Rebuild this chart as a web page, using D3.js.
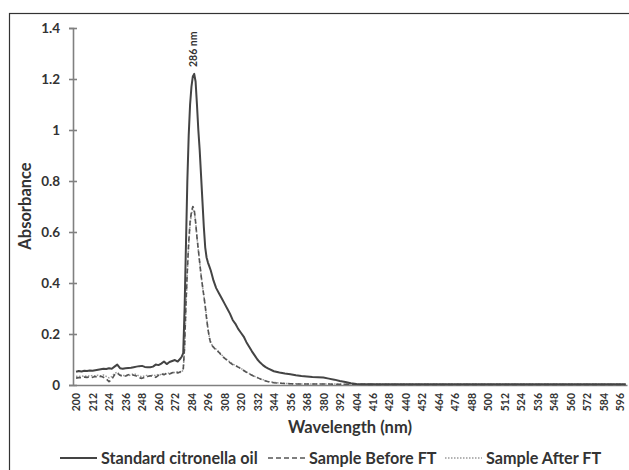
<!DOCTYPE html>
<html>
<head>
<meta charset="utf-8">
<script src="https://cdn.jsdelivr.net/npm/d3@7"></script>
<style>
    body { margin: 0; background: #fff; }
    svg text { font-family: Lato, "Open Sans", sans-serif; fill: #333; }
</style>
</head>
<body>
<div id="chart"></div>
<script>
// wavelength (nm) shared by the three series
const wavelengths = [
    200, 202, 204, 206, 208, 210, 212, 214, 216, 218, 220, 222, 224, 226, 228, 230, 232, 234, 236, 238,
    240, 242, 244, 246, 248, 250, 252, 254, 256, 258, 260, 262, 264, 266, 268, 270, 272, 274, 276,
    277, 278, 279, 280, 281, 282, 283, 284, 285, 286, 287, 288, 289, 290, 291, 292, 293, 294, 295, 296,
    297, 298, 299, 300, 302, 304, 306, 308, 310, 312, 314, 316, 318, 320, 322, 324, 326, 328, 330, 332,
    334, 336, 338, 340, 344, 348, 352, 356, 360, 364, 368, 372, 376, 380, 384, 388, 392, 396, 400, 404,
    408, 420, 440, 460, 480, 500, 520, 540, 560, 580, 600
];
const standardOil = [
    0.052, 0.055, 0.053, 0.056, 0.055, 0.057, 0.056, 0.058, 0.060, 0.062, 0.064, 0.063, 0.066, 0.064, 0.072, 0.080, 0.066, 0.064, 0.066, 0.067,
    0.068, 0.070, 0.072, 0.074, 0.075, 0.071, 0.070, 0.070, 0.072, 0.080, 0.078, 0.084, 0.092, 0.082, 0.090, 0.094, 0.098, 0.092, 0.104,
    0.112, 0.125, 0.30, 0.55, 0.80, 0.98, 1.10, 1.17, 1.21, 1.22, 1.19, 1.10, 1.00, 0.92, 0.82, 0.72, 0.62, 0.54, 0.50, 0.48,
    0.465, 0.45, 0.43, 0.41, 0.38, 0.36, 0.34, 0.32, 0.30, 0.28, 0.255, 0.24, 0.22, 0.205, 0.19, 0.168, 0.15, 0.132, 0.116, 0.10,
    0.088, 0.078, 0.07, 0.064, 0.054, 0.049, 0.045, 0.042, 0.038, 0.035, 0.033, 0.031, 0.030, 0.029, 0.025, 0.021, 0.016, 0.012, 0.007, 0.004,
    0.003, 0.003, 0.003, 0.003, 0.003, 0.003, 0.003, 0.003, 0.003, 0.003, 0.003
];
const sampleBefore = [
    0.027, 0.029, 0.028, 0.031, 0.030, 0.032, 0.030, 0.033, 0.031, 0.034, 0.030, 0.024, 0.013, 0.022, 0.040, 0.047, 0.038, 0.033, 0.035, 0.040,
    0.042, 0.038, 0.035, 0.028, 0.026, 0.030, 0.033, 0.036, 0.035, 0.030, 0.038, 0.044, 0.040, 0.046, 0.043, 0.048, 0.051, 0.047, 0.052,
    0.055, 0.060, 0.15, 0.32, 0.45, 0.56, 0.64, 0.68, 0.70, 0.69, 0.64, 0.58, 0.53, 0.48, 0.43, 0.39, 0.35, 0.31, 0.26, 0.22,
    0.185, 0.165, 0.155, 0.148, 0.137, 0.128, 0.115, 0.105, 0.097, 0.088, 0.080, 0.076, 0.070, 0.064, 0.057, 0.050, 0.044, 0.038, 0.033, 0.029,
    0.024, 0.020, 0.016, 0.013, 0.009, 0.007, 0.006, 0.005, 0.004, 0.004, 0.004, 0.004, 0.004, 0.004, 0.004, 0.003, 0.003, 0.003, 0.003, 0.003,
    0.003, 0.002, 0.002, 0.002, 0.002, 0.002, 0.002, 0.002, 0.002, 0.002, 0.002
];
const sampleAfter = [
    0.034, 0.033, 0.035, 0.034, 0.036, 0.035, 0.037, 0.036, 0.038, 0.036, 0.039, 0.034, 0.028, 0.033, 0.045, 0.050, 0.041, 0.037, 0.038, 0.036,
    0.040, 0.044, 0.041, 0.035, 0.032, 0.036, 0.038, 0.034, 0.040, 0.036, 0.042, 0.040, 0.046, 0.043, 0.048, 0.045, 0.050, 0.052, 0.049,
    0.053, 0.058, 0.14, 0.30, 0.44, 0.55, 0.63, 0.67, 0.69, 0.68, 0.64, 0.58, 0.53, 0.48, 0.43, 0.39, 0.35, 0.31, 0.27, 0.22,
    0.19, 0.168, 0.157, 0.15, 0.14, 0.13, 0.118, 0.107, 0.099, 0.09, 0.082, 0.077, 0.071, 0.065, 0.058, 0.051, 0.045, 0.039, 0.034, 0.029,
    0.025, 0.021, 0.017, 0.014, 0.010, 0.008, 0.006, 0.005, 0.005, 0.004, 0.004, 0.004, 0.004, 0.004, 0.004, 0.004, 0.003, 0.003, 0.003, 0.003,
    0.003, 0.003, 0.003, 0.003, 0.003, 0.003, 0.003, 0.003, 0.003, 0.003, 0.003
];
const xTickLabels = d3.range(200, 597, 12);
const yTickLabels = [0, 0.2, 0.4, 0.6, 0.8, 1, 1.2, 1.4];
const seriesNames = ['Standard citronella oil', 'Sample Before FT', 'Sample After FT'];
const peakLabel = '286 nm';

const width = 629, height = 470;
const svg = d3.select('#chart').append('svg')
    .attr('width', width)
    .attr('height', height);

// outer frame, cut by the picture edge like in the source
svg.append('rect')
    .attr('x', 9.5).attr('y', 13.5)
    .attr('width', 640).attr('height', 480)
    .attr('fill', 'none')
    .attr('stroke', '#333')
    .attr('stroke-width', 1.2);

const x = d3.scaleLinear().domain([198, 601]).range([73.3, 627]);
const y = d3.scaleLinear().domain([0, 1.4]).range([385, 28]);

// y axis
const yAxis = svg.append('g')
    .attr('transform', 'translate(73,0)')
    .call(d3.axisLeft(y).tickValues(yTickLabels).tickSize(4).tickPadding(9).tickFormat(d => d3.format('~g')(d)));
yAxis.select('.domain').attr('stroke', '#808080').attr('stroke-width', 1.6);
yAxis.selectAll('.tick line').attr('x1', 4).attr('stroke', '#808080').attr('stroke-width', 1.6);
yAxis.selectAll('.tick text')
    .style('font-size', '13.5px')
    .style('font-weight', 'bold');

// x axis
const xAxis = svg.append('g')
    .attr('transform', 'translate(0,385)')
    .call(d3.axisBottom(x).tickValues(xTickLabels).tickSize(0).tickSizeOuter(0));
xAxis.select('.domain').attr('stroke', '#808080').attr('stroke-width', 1.6);
xAxis.selectAll('.tick text')
    .attr('transform', 'rotate(-90)')
    .attr('text-anchor', 'end')
    .attr('x', -8)
    .attr('y', 0)
    .attr('dy', '0.35em')
    .style('font-size', '10.5px')
    .style('font-weight', 'bold');

// series
const line = values => d3.line()
    .x((d, i) => x(wavelengths[i]))
    .y(d => y(d))(values);

const seriesStyle = [
    {values: standardOil, color: '#444', width: 2, dash: null},
    {values: sampleBefore, color: '#555', width: 1.6, dash: '5,3'},
    {values: sampleAfter, color: '#9a9a9a', width: 1.5, dash: '1.5,1.5'}
];

seriesStyle.slice().reverse().forEach(s => {
    svg.append('path')
        .attr('d', line(s.values))
        .attr('fill', 'none')
        .attr('stroke', s.color)
        .attr('stroke-width', s.width)
        .attr('stroke-dasharray', s.dash)
        .attr('stroke-linejoin', 'round');
});

// peak annotation
svg.append('text')
    .attr('transform', `translate(${x(286) + 3},67) rotate(-90)`)
    .attr('text-anchor', 'start')
    .style('font-size', '10.5px')
    .style('font-weight', 'bold')
    .text(peakLabel);

// axis titles
svg.append('text')
    .attr('transform', 'translate(31,206) rotate(-90)')
    .attr('text-anchor', 'middle')
    .style('font-size', '16.5px')
    .style('font-weight', 'bold')
    .text('Absorbance');

svg.append('text')
    .attr('x', 350).attr('y', 433)
    .attr('text-anchor', 'middle')
    .style('font-size', '16.5px')
    .style('font-weight', 'bold')
    .text('Wavelength (nm)');

// legend
const legendX = [60, 268, 445];
const legend = svg.append('g').attr('transform', 'translate(0,458)');
seriesStyle.forEach((s, i) => {
    legend.append('line')
        .attr('x1', legendX[i]).attr('x2', legendX[i] + 37)
        .attr('y1', 0).attr('y2', 0)
        .attr('stroke', s.color)
        .attr('stroke-width', s.width)
        .attr('stroke-dasharray', s.dash);
    legend.append('text')
        .attr('x', legendX[i] + 41)
        .attr('y', 0)
        .attr('dy', '0.35em')
        .style('font-size', '16.2px')
        .style('font-weight', 'bold')
        .text(seriesNames[i]);
});
</script>
</body>
</html>
